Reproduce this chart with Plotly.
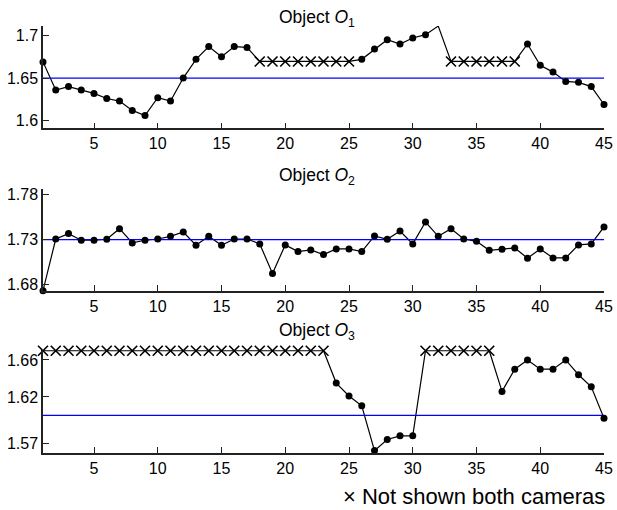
import plotly.graph_objects as go

# Frame index shared by all three objects
frames = list(range(1, 46))

# Measured values per frame; None = object not visible in both cameras
o1_values = [1.669, 1.636, 1.640, 1.636, 1.632, 1.626, 1.623, 1.612, 1.606, 1.627,
             1.623, 1.650, 1.672, 1.687, 1.675, 1.687, 1.686,
             None, None, None, None, None, None, None, None,
             1.672, 1.684, 1.695, 1.690, 1.697, 1.701, 1.711,
             None, None, None, None, None, None,
             1.690, 1.665, 1.657, 1.646, 1.645, 1.640, 1.619]
o2_values = [1.673, 1.7307, 1.7367, 1.7293, 1.7293, 1.7304, 1.7422, 1.7263, 1.7293, 1.7307,
             1.7337, 1.7385, 1.7237, 1.7337, 1.7237, 1.7307, 1.7307, 1.7252, 1.6922, 1.7241,
             1.7167, 1.7185, 1.7133, 1.7196, 1.7196, 1.7167, 1.7341, 1.7304, 1.7396, 1.7252,
             1.7496, 1.7337, 1.7422, 1.7307, 1.7281, 1.7181, 1.7193, 1.7207, 1.7093, 1.7196,
             1.7096, 1.7096, 1.7241, 1.7252, 1.7441]
o3_values = [None] * 23 + [1.635, 1.621, 1.6105, 1.562, 1.574, 1.578, 1.578] + \
            [None] * 6 + [1.626, 1.650, 1.660, 1.650, 1.650, 1.660, 1.644, 1.631, 1.597]

# Level at which hidden frames are drawn as crosses
hidden_level = [1.6695, None, 1.670]
# Frames whose vertex has no dot
unmarked = [[32], [], []]
# True value reference lines
reference = [1.65, 1.73, 1.60]
# Axis ranges and tick labels
y_ranges = [[1.591, 1.711], [1.673, 1.787], [1.5597, 1.6705]]
y_ticks = [[1.6, 1.65, 1.7], [1.68, 1.73, 1.78], [1.57, 1.62, 1.66]]
y_ticktext = [["1.6", "1.65", "1.7"], ["1.68", "1.73", "1.78"], ["1.57", "1.62", "1.66"]]
x_ticks = [5, 10, 15, 20, 25, 30, 35, 40, 45]
titles = ["Object <i>O</i><sub>1</sub>", "Object <i>O</i><sub>2</sub>", "Object <i>O</i><sub>3</sub>"]

W, H = 617, 510
panel_px = [(24.3, 127.3), (188.0, 291.0), (351.0, 454.3)]
title_px = [17, 176, 332]
FONT = "Liberation Sans, Arial, sans-serif"

fig = go.Figure()
series = [o1_values, o2_values, o3_values]
for i, vals in enumerate(series):
    sfx = "" if i == 0 else str(i + 1)
    xa, ya = "x" + sfx, "y" + sfx
    line_y = [v if v is not None else hidden_level[i] for v in vals]
    # connecting line through every frame
    fig.add_trace(go.Scatter(x=frames, y=line_y, mode="lines", xaxis=xa, yaxis=ya,
                             line=dict(color="black", width=1.2), showlegend=False,
                             hoverinfo="skip", cliponaxis=False))
    # reference value
    fig.add_trace(go.Scatter(x=[frames[0], frames[-1]], y=[reference[i]] * 2, mode="lines",
                             xaxis=xa, yaxis=ya, line=dict(color="#0000ff", width=1.3),
                             showlegend=False, hoverinfo="skip"))
    # measured frames
    mx = [f for f, v in zip(frames, vals) if v is not None and f not in unmarked[i]]
    my = [v for f, v in zip(frames, vals) if v is not None and f not in unmarked[i]]
    fig.add_trace(go.Scatter(x=mx, y=my, mode="markers", xaxis=xa, yaxis=ya,
                             marker=dict(color="black", size=7), showlegend=False,
                             cliponaxis=False))
    # hidden frames
    hx = [f for f, v in zip(frames, vals) if v is None]
    if hx:
        fig.add_trace(go.Scatter(x=hx, y=[hidden_level[i]] * len(hx), mode="markers",
                                 xaxis=xa, yaxis=ya, showlegend=False, cliponaxis=False,
                                 marker=dict(symbol="x-thin-open", size=10, color="black",
                                             line=dict(color="black", width=1.6))))

    top, bot = panel_px[i]
    axis_common = dict(showgrid=False, zeroline=False, showline=True, linecolor="#222",
                       linewidth=1.5, ticks="inside", ticklen=6, tickwidth=1,
                       tickcolor="#222", tickfont=dict(size=16, color="black", family=FONT))
    fig.layout["xaxis" + sfx] = dict(axis_common, range=[1, 45], tickvals=x_ticks,
                                     anchor=ya, domain=[0, 1])
    fig.layout["yaxis" + sfx] = dict(axis_common, range=y_ranges[i], tickvals=y_ticks[i],
                                     ticktext=y_ticktext[i], anchor=xa,
                                     ticklabelstandoff=0,
                                     domain=[1 - bot / H, 1 - top / H])
    fig.add_annotation(text=titles[i], xref="paper", yref="paper",
                       x=(316.7 - 43) / (604 - 43), y=1 - title_px[i] / H,
                       showarrow=False, xanchor="center", yanchor="middle",
                       font=dict(size=17.5, color="black", family=FONT))

fig.add_annotation(text="× Not shown both cameras", xref="paper", yref="paper",
                   x=(607 - 43) / (604 - 43), y=1 - 498 / H, showarrow=False,
                   xanchor="right", yanchor="middle",
                   font=dict(size=22, color="black", family=FONT))

fig.update_layout(width=W, height=H, margin=dict(l=43, r=13, t=0, b=0),
                  plot_bgcolor="white", paper_bgcolor="white", showlegend=False,
                  font=dict(family=FONT, color="black"))

fig.write_html("out.html")
